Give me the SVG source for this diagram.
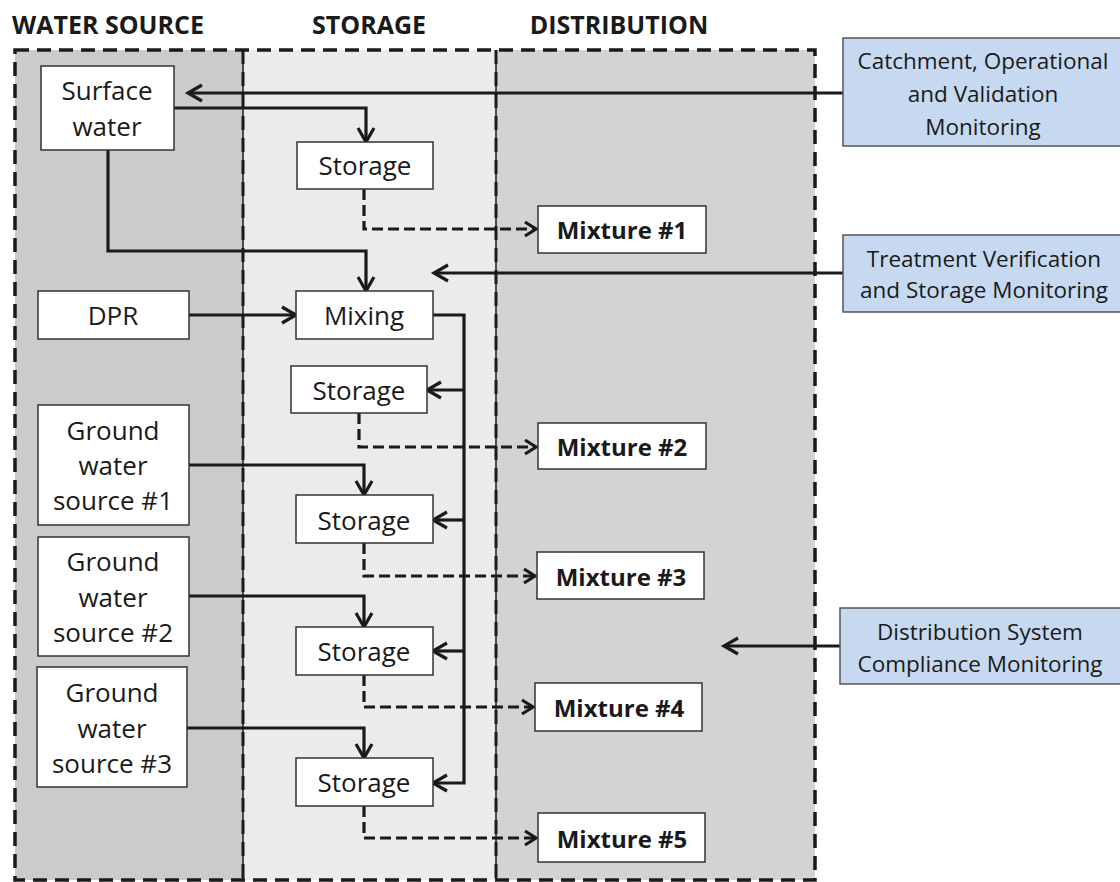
<svg xmlns="http://www.w3.org/2000/svg" width="1120" height="882" viewBox="0 0 1120 882">
<defs>
<style>
.t{font-family:"Open Sans","Liberation Sans",sans-serif;fill:#1a1a1a;text-anchor:middle;dominant-baseline:central}
.n{font-size:26px}
.b{font-size:24px;font-weight:bold}
.m{font-size:22.5px}
.h{font-family:"Open Sans","Liberation Sans",sans-serif;font-size:25px;font-weight:bold;fill:#1a1a1a;text-anchor:middle}
.box{fill:#fff;stroke:#333;stroke-width:1.5}
.blue{fill:#c6d9f0;stroke:#555;stroke-width:1.5}
.c{fill:none;stroke:#1a1a1a;stroke-width:3.2}
.d{fill:none;stroke:#1a1a1a;stroke-width:3.2;stroke-dasharray:11 5}
</style>
<marker id="a" markerUnits="userSpaceOnUse" viewBox="-16 -10 18 20" refX="0" refY="0" markerWidth="18" markerHeight="20" orient="auto" overflow="visible">
<path d="M-14,-8 L0,0 L-14,8" fill="none" stroke="#1a1a1a" stroke-width="3.2"/>
</marker>
<marker id="s" markerUnits="userSpaceOnUse" viewBox="-14 -9 16 18" refX="0" refY="0" markerWidth="16" markerHeight="18" orient="auto" overflow="visible">
<path d="M-11,-7 L0,0 L-11,7" fill="none" stroke="#1a1a1a" stroke-width="3.2"/>
</marker>
</defs>
<rect width="1120" height="882" fill="#fff"/>
<g id="columns">
<rect x="15" y="50" width="228" height="830" fill="#cbcbcb"/>
<rect x="243" y="50" width="253" height="830" fill="#ebebeb"/>
<rect x="496" y="50" width="319" height="830" fill="#d3d3d3"/>
<line x1="243" y1="50" x2="243" y2="880" stroke="#1a1a1a" stroke-width="1.5"/>
<line x1="243" y1="50" x2="243" y2="880" stroke="#1a1a1a" stroke-width="3" stroke-dasharray="14 8"/>
<line x1="496" y1="50" x2="496" y2="880" stroke="#1a1a1a" stroke-width="1.5"/>
<line x1="496" y1="50" x2="496" y2="880" stroke="#1a1a1a" stroke-width="3" stroke-dasharray="14 8"/>
<rect x="15" y="50" width="800" height="830" fill="none" stroke="#1a1a1a" stroke-width="3.5" stroke-dasharray="14 8"/>
<text class="h" x="108" y="34">WATER SOURCE</text>
<text class="h" x="369" y="34">STORAGE</text>
<text class="h" x="619" y="34">DISTRIBUTION</text>
</g>
<g id="connectors">
<polyline class="c" points="174,108 366,108 366,142" marker-end="url(#a)"/>
<polyline class="c" points="108,150 108,251 366,251 366,291" marker-end="url(#a)"/>
<polyline class="c" points="189,315 296,315" marker-end="url(#a)"/>
<polyline class="c" points="433,315 464,315 464,783 433,783" marker-end="url(#a)"/>
<polyline class="c" points="464,390 427,390" marker-end="url(#a)"/>
<polyline class="c" points="464,520 433,520" marker-end="url(#a)"/>
<polyline class="c" points="464,651 433,651" marker-end="url(#a)"/>
<polyline class="c" points="189,465 364,465 364,495" marker-end="url(#a)"/>
<polyline class="c" points="189,596 364,596 364,627" marker-end="url(#a)"/>
<polyline class="c" points="187,728 364,728 364,758" marker-end="url(#a)"/>
<polyline class="d" points="364,189 364,229 536,229" marker-end="url(#s)"/>
<polyline class="d" points="359,413 359,447 536,447" marker-end="url(#s)"/>
<polyline class="d" points="364,543 364,576 535,576" marker-end="url(#s)"/>
<polyline class="d" points="364,675 364,707 533,707" marker-end="url(#s)"/>
<polyline class="d" points="364,806 364,838 536,838" marker-end="url(#s)"/>
<polyline class="c" points="843,93 188,93" marker-end="url(#a)"/>
<polyline class="c" points="843,273 434,273" marker-end="url(#a)"/>
<polyline class="c" points="840,646 724,646" marker-end="url(#a)"/>
</g>
<g id="surface-water"><rect class="box" x="41" y="66" width="133" height="84"/><text class="t n" x="107" y="90">Surface</text><text class="t n" x="107" y="126">water</text></g>
<g id="dpr"><rect class="box" x="38" y="291" width="151" height="48"/><text class="t n" x="113" y="315">DPR</text></g>
<g id="gw1"><rect class="box" x="38" y="405" width="151" height="120"/><text class="t n" x="113" y="430">Ground</text><text class="t n" x="113" y="465">water</text><text class="t n" x="113" y="500">source #1</text></g>
<g id="gw2"><rect class="box" x="38" y="537" width="151" height="119"/><text class="t n" x="113" y="561">Ground</text><text class="t n" x="113" y="597">water</text><text class="t n" x="113" y="632">source #2</text></g>
<g id="gw3"><rect class="box" x="37" y="667" width="150" height="120"/><text class="t n" x="112" y="692">Ground</text><text class="t n" x="112" y="728">water</text><text class="t n" x="112" y="763">source #3</text></g>
<g id="storage1"><rect class="box" x="297" y="142" width="136" height="47"/><text class="t n" x="365" y="165">Storage</text></g>
<g id="mixing"><rect class="box" x="296" y="291" width="137" height="48"/><text class="t n" x="364" y="315">Mixing</text></g>
<g id="storage2"><rect class="box" x="291" y="366" width="136" height="47"/><text class="t n" x="359" y="390">Storage</text></g>
<g id="storage3"><rect class="box" x="296" y="495" width="137" height="48"/><text class="t n" x="364" y="520">Storage</text></g>
<g id="storage4"><rect class="box" x="296" y="627" width="137" height="48"/><text class="t n" x="364" y="651">Storage</text></g>
<g id="storage5"><rect class="box" x="296" y="758" width="137" height="48"/><text class="t n" x="364" y="782">Storage</text></g>
<g id="mixture1"><rect class="box" x="538" y="206" width="168" height="47"/><text class="t b" x="622" y="229">Mixture #1</text></g>
<g id="mixture2"><rect class="box" x="538" y="423" width="168" height="46"/><text class="t b" x="622" y="446">Mixture #2</text></g>
<g id="mixture3"><rect class="box" x="537" y="552" width="167" height="47"/><text class="t b" x="621" y="576">Mixture #3</text></g>
<g id="mixture4"><rect class="box" x="535" y="683" width="167" height="48"/><text class="t b" x="619" y="707">Mixture #4</text></g>
<g id="mixture5"><rect class="box" x="538" y="813" width="167" height="49"/><text class="t b" x="622" y="838">Mixture #5</text></g>
<g id="catchment-monitoring"><rect class="blue" x="843" y="38" width="285" height="108"/><text class="t m" x="983" y="60">Catchment, Operational</text><text class="t m" x="983" y="93">and Validation</text><text class="t m" x="983" y="126">Monitoring</text></g>
<g id="treatment-monitoring"><rect class="blue" x="843" y="235" width="285" height="77"/><text class="t m" x="984" y="258">Treatment Verification</text><text class="t m" x="984" y="289">and Storage Monitoring</text></g>
<g id="distribution-monitoring"><rect class="blue" x="840" y="608" width="288" height="76"/><text class="t m" x="980" y="631">Distribution System</text><text class="t m" x="980" y="663">Compliance Monitoring</text></g>
</svg>
